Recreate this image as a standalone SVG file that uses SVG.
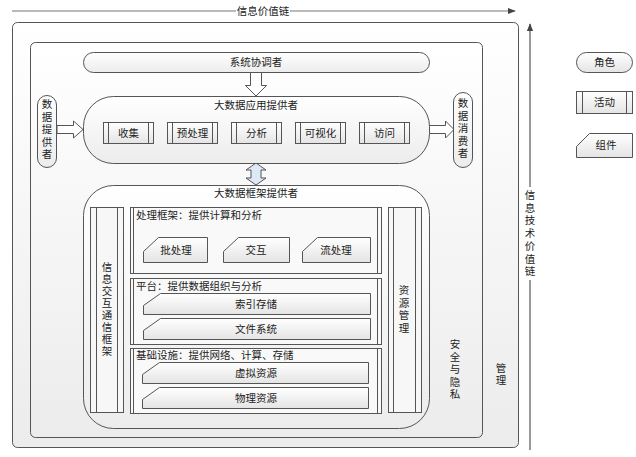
<svg xmlns="http://www.w3.org/2000/svg" width="636" height="457" viewBox="0 0 636 457">
<defs>
<linearGradient id="bg" x1="0" y1="0" x2="0" y2="1"><stop offset="0" stop-color="#ffffff"/><stop offset="1" stop-color="#ececec"/></linearGradient>
<linearGradient id="bx" x1="0" y1="0" x2="0" y2="1"><stop offset="0" stop-color="#ffffff"/><stop offset="1" stop-color="#e4e4e4"/></linearGradient>
<marker id="ah" viewBox="0 0 10 10" refX="9" refY="5" markerWidth="8" markerHeight="8" markerUnits="userSpaceOnUse" orient="auto"><path d="M0,1 L10,5 L0,9 Z" fill="#444"/></marker>
</defs>
<style>
text{font-family:"Liberation Sans","Noto Sans CJK SC",sans-serif;font-size:10.5px;fill:#222}
.c{text-anchor:middle}
.frame{fill:url(#bg);stroke:#555;stroke-width:1}
.box{fill:url(#bx);stroke:#555;stroke-width:1}
.ln{stroke:#555;stroke-width:1;fill:none}
.hol{fill:#fff;stroke:#555;stroke-width:1}
</style>
<rect width="636" height="457" fill="#fff"/>

<g id="connectors">
<line x1="12" y1="11" x2="236" y2="11" stroke="#777" stroke-width="1.2"/>
<line x1="290" y1="11" x2="515" y2="11" stroke="#777" stroke-width="1.2" marker-end="url(#ah)"/>
<line x1="530" y1="450" x2="530" y2="280" stroke="#999" stroke-width="2"/>
<line x1="530" y1="187" x2="530" y2="24" stroke="#999" stroke-width="2" marker-end="url(#ah)"/>
</g>
<text class="c" x="263" y="15">信息价值链</text>
<text class="c" x="530"><tspan x="530" y="199">信</tspan><tspan x="530" y="211.7">息</tspan><tspan x="530" y="224.4">技</tspan><tspan x="530" y="237.1">术</tspan><tspan x="530" y="249.8">价</tspan><tspan x="530" y="262.5">值</tspan><tspan x="530" y="275.2">链</tspan></text>

<g id="mgmt-outer">
<rect class="frame" x="12.5" y="22.5" width="506" height="425" rx="5"/>
<text class="c"><tspan x="501" y="372">管</tspan><tspan x="501" y="384">理</tspan></text>
</g>
<g id="security">
<rect class="frame" x="30.5" y="42.5" width="452" height="395" rx="5"/>
<text class="c"><tspan x="455" y="348">安</tspan><tspan x="455" y="360.5">全</tspan><tspan x="455" y="373">与</tspan><tspan x="455" y="385.5">隐</tspan><tspan x="455" y="398">私</tspan></text>
</g>

<g id="coordinator">
<rect class="frame" x="83.5" y="52.5" width="346" height="20" rx="10"/>
<text class="c" x="256" y="66">系统协调者</text>
</g>

<g id="arrows">
<polygon class="hol" points="250.5,72.5 261.5,72.5 261.5,85.5 266.5,85.5 256,96 245.5,85.5 250.5,85.5"/>
<polygon class="hol" points="57,125.5 73.5,125.5 73.5,121 83,129.5 73.5,138 73.5,133.5 57,133.5"/>
<polygon class="hol" points="429,125.5 445.5,125.5 445.5,121 454,129.5 445.5,138 445.5,133.5 429,133.5"/>
<polygon points="256,163 266,170 261,170 261,178 266,178 256,185 246,178 251,178 251,170 246,170" fill="#dfe9f6" stroke="#555" stroke-width="1"/>
</g>

<g id="app-provider">
<rect class="frame" x="83.5" y="96.5" width="346" height="67" rx="30"/>
<text class="c" x="256" y="108.5">大数据应用提供者</text>
</g>
<g id="act-collect"><rect class="box" x="103.5" y="122.5" width="50" height="21"/><path class="ln" d="M108.5,122.5V143.5M148.5,122.5V143.5"/><text class="c" x="128.5" y="136.5">收集</text></g>
<g id="act-preprocess"><rect class="box" x="167.5" y="122.5" width="50" height="21"/><path class="ln" d="M172.5,122.5V143.5M212.5,122.5V143.5"/><text class="c" x="192.5" y="136.5">预处理</text></g>
<g id="act-analysis"><rect class="box" x="231.5" y="122.5" width="50" height="21"/><path class="ln" d="M236.5,122.5V143.5M276.5,122.5V143.5"/><text class="c" x="256.5" y="136.5">分析</text></g>
<g id="act-visual"><rect class="box" x="295.5" y="122.5" width="50" height="21"/><path class="ln" d="M300.5,122.5V143.5M340.5,122.5V143.5"/><text class="c" x="320.5" y="136.5">可视化</text></g>
<g id="act-access"><rect class="box" x="359.5" y="122.5" width="50" height="21"/><path class="ln" d="M364.5,122.5V143.5M404.5,122.5V143.5"/><text class="c" x="384.5" y="136.5">访问</text></g>

<g id="data-provider">
<rect class="frame" x="37.5" y="95.5" width="19" height="72" rx="9.5"/>
<text class="c"><tspan x="47" y="108">数</tspan><tspan x="47" y="120.5">据</tspan><tspan x="47" y="133">提</tspan><tspan x="47" y="145.5">供</tspan><tspan x="47" y="158">者</tspan></text>
</g>
<g id="data-consumer">
<rect class="frame" x="453.5" y="92.5" width="19" height="75" rx="9.5"/>
<text class="c"><tspan x="463" y="107">数</tspan><tspan x="463" y="119.5">据</tspan><tspan x="463" y="132">消</tspan><tspan x="463" y="144.5">费</tspan><tspan x="463" y="157">者</tspan></text>
</g>

<g id="framework-provider">
<rect class="frame" x="83.5" y="185.5" width="346" height="243" rx="30"/>
<text class="c" x="256" y="196.5">大数据框架提供者</text>
</g>

<g id="comm-framework">
<rect class="box" x="90.5" y="207.5" width="33" height="205" fill="#f6f6f6" style="fill:#f7f7f7"/>
<path class="ln" d="M96.5,207.5V412.5M117.5,207.5V412.5"/>
<text class="c"><tspan x="107" y="271">信</tspan><tspan x="107" y="283">息</tspan><tspan x="107" y="295">交</tspan><tspan x="107" y="307">互</tspan><tspan x="107" y="319">通</tspan><tspan x="107" y="331">信</tspan><tspan x="107" y="343">框</tspan><tspan x="107" y="355">架</tspan></text>
</g>

<g id="resource-mgmt">
<rect class="box" x="388.5" y="207.5" width="33" height="205" style="fill:#f7f7f7"/>
<path class="ln" d="M393.5,207.5V412.5M415.5,207.5V412.5"/>
<text class="c"><tspan x="404" y="294">资</tspan><tspan x="404" y="306.5">源</tspan><tspan x="404" y="319">管</tspan><tspan x="404" y="331.5">理</tspan></text>
</g>

<g id="processing">
<rect class="box" x="130.5" y="207.5" width="251" height="66" style="fill:#f9f9f9"/>
<path class="ln" d="M133.5,207.5V273.5M377.5,207.5V273.5"/>
<text x="136" y="218.5">处理框架：提供计算和分析</text>
</g>
<g id="batch"><path class="box" d="M143.5,251.5L158.5,237.5H207.5V262.5H143.5Z"/><text class="c" x="176" y="253.5">批处理</text></g>
<g id="interactive"><path class="box" d="M223.5,251.5L238.5,237.5H289.5V262.5H223.5Z"/><text class="c" x="256" y="253.5">交互</text></g>
<g id="stream"><path class="box" d="M302.5,251.5L317.5,237.5H370.5V262.5H302.5Z"/><text class="c" x="336" y="253.5">流处理</text></g>

<g id="platform">
<rect class="box" x="130.5" y="278.5" width="251" height="66" style="fill:#f9f9f9"/>
<path class="ln" d="M133.5,278.5V344.5M377.5,278.5V344.5"/>
<text x="136" y="289.5">平台：提供数据组织与分析</text>
</g>
<g id="index-store"><path class="box" d="M143.5,305.5L160.5,293.5H370.5V314.5H143.5Z"/><text class="c" x="256" y="307.5">索引存储</text></g>
<g id="file-system"><path class="box" d="M143.5,330.5L160.5,318.5H370.5V339.5H143.5Z"/><text class="c" x="256" y="332.5">文件系统</text></g>

<g id="infrastructure">
<rect class="box" x="130.5" y="348.5" width="251" height="65" style="fill:#f9f9f9"/>
<path class="ln" d="M133.5,348.5V413.5M377.5,348.5V413.5"/>
<text x="136" y="359">基础设施：提供网络、计算、存储</text>
</g>
<g id="virtual-res"><path class="box" d="M142.5,374.5L159.5,362.5H368.5V383.5H142.5Z"/><text class="c" x="256" y="376.5">虚拟资源</text></g>
<g id="physical-res"><path class="box" d="M142.5,399.5L159.5,387.5H368.5V408.5H142.5Z"/><text class="c" x="256" y="401.5">物理资源</text></g>

<g id="legend-role"><rect class="box" x="576.5" y="52.5" width="56" height="20" rx="10"/><text class="c" x="604.5" y="66">角色</text></g>
<g id="legend-activity"><rect class="box" x="576.5" y="91.5" width="56" height="22"/><path class="ln" d="M582.5,91.5V113.5M626.5,91.5V113.5"/><text class="c" x="604.5" y="106">活动</text></g>
<g id="legend-component"><path class="box" d="M576.5,146.5L589.5,133.5H632.5V157.5H576.5Z"/><text class="c" x="606" y="149">组件</text></g>
</svg>
